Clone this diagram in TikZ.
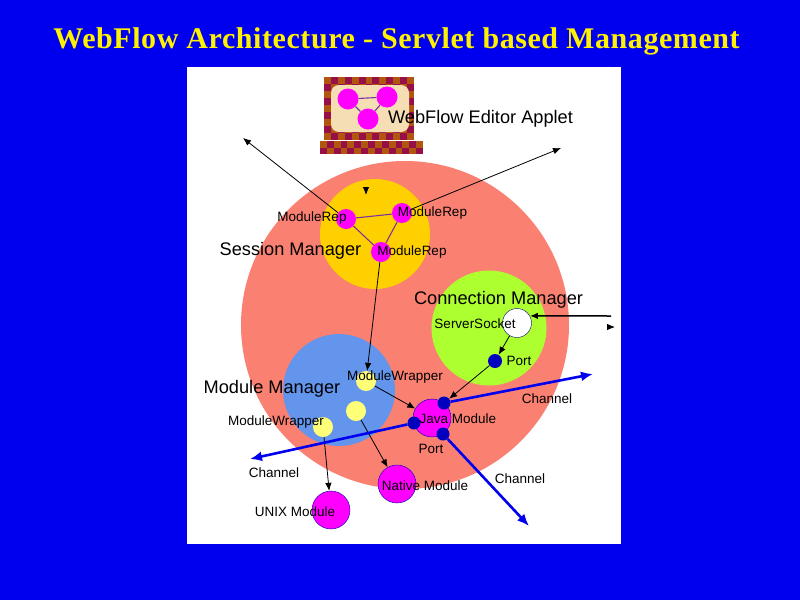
\documentclass[tikz,border=0pt]{standalone}
\usepackage{fontspec}
\setmainfont{Liberation Sans}
\newfontfamily\titlefont[LetterSpace=1.9]{Liberation Serif}
\usetikzlibrary{arrows.meta}
\definecolor{slideblue}{RGB}{0,0,238}
\definecolor{salmonred}{RGB}{250,128,114}
\definecolor{sessiongold}{RGB}{255,208,0}
\definecolor{connectgreen}{RGB}{173,255,47}
\definecolor{moduleblue}{RGB}{100,149,237}
\definecolor{portblue}{RGB}{0,0,190}
\definecolor{paleyellow}{RGB}{255,255,120}
\definecolor{linkpurple}{RGB}{125,50,160}
\definecolor{checkred}{RGB}{150,15,70}
\definecolor{checkbrown}{RGB}{178,85,15}
\definecolor{panelwheat}{RGB}{245,222,179}
\definecolor{modulepink}{RGB}{255,0,255}
\tikzset{line/.style={draw, line width=0.8pt, -{Latex[length=8pt,width=6.5pt]}}}
\tikzset{channel/.style={draw=slideblue, line width=2.6pt, -{Latex[length=12pt,width=10pt]}}}
\tikzset{link/.style={draw=linkpurple, line width=1.1pt}}

\begin{document}
\begin{tikzpicture}[x=1pt, y=-1pt]
\tikzstyle{disc} = [circle, inner sep=0pt, minimum size=#1*2pt]
\tikzstyle{rep} = [disc=10, fill=modulepink]
\tikzstyle{wrapper} = [disc=10, fill=paleyellow]
\tikzstyle{port} = [disc=6.5, fill=portblue]
\tikzstyle{module} = [disc=19, fill=modulepink, draw=blue!70!black]
\tikzstyle{small} = [font=\fontsize{13.5}{14}\selectfont, inner sep=0pt, yshift=-0.5pt]
\tikzstyle{big} = [font=\fontsize{18.2}{19}\selectfont, inner sep=0pt, yshift=-1.5pt]
\useasboundingbox (0,0) rectangle (800,600);
\fill [slideblue] (0,0) rectangle (800,600);
\fill [white] (187,67) rectangle (621,544);

% title
\node [text=yellow, font=\titlefont\bfseries\fontsize{30}{31}\selectfont, inner sep=0pt] (title) at (396.5,41) {WebFlow Architecture - Servlet based Management};

% applet monitor
\fill [checkred] (324,77) rectangle (414,140);
\fill [checkred] (320,141) rectangle (423,154);
\foreach \i in {0,...,12} \foreach \j in {0,...,8} {
  \pgfmathparse{int(mod(\i+\j,2))}
  \ifnum\pgfmathresult=0 \fill [checkbrown] (324+\i*6.92,77+\j*7) rectangle +(6.92,7); \fi
}
\foreach \i in {0,...,14} \foreach \j in {0,1} {
  \pgfmathparse{int(mod(\i+\j,2))}
  \ifnum\pgfmathresult=0 \fill [checkbrown] (320+\i*6.87,141+\j*6.5) rectangle +(6.87,6.5); \fi
}
\fill [panelwheat, rounded corners=8pt] (331,85) rectangle (409,132);
\node [disc=10.5, fill=modulepink] (icon1) at (348,99) {};
\node [disc=10.5, fill=modulepink] (icon2) at (387,97) {};
\node [disc=10.5, fill=modulepink] (icon3) at (368,119) {};
\path [link] (icon1) -- (icon2);
\path [link] (icon1) -- (icon3);
\path [link] (icon2) -- (icon3);

% managers
\node [disc=164, fill=salmonred] (webflow) at (405,325) {};
\node [disc=55, fill=sessiongold] (session) at (375,234) {};
\node [disc=57.5, fill=connectgreen] (connection) at (489,328) {};
\node [disc=56, fill=moduleblue] (manager) at (339,390) {};

\node [rep] (rep_left) at (346,219) {};
\node [rep] (rep_right) at (402,213) {};
\node [rep] (rep_low) at (381,252) {};
\node [wrapper] (wrapper_top) at (366,381) {};
\node [wrapper] (wrapper_mid) at (356,411) {};
\node [wrapper] (wrapper_low) at (323,427) {};
\node [disc=14.5, fill=white, draw=portblue!60!black] (socket) at (517,323) {};
\node [port, disc=7] (port_socket) at (495,361) {};
\node [module] (java) at (432,418) {};
\node [module] (native) at (397,484) {};
\node [module] (unix) at (331,510) {};
\node [port] (port_top) at (444,403) {};
\node [port] (port_left) at (414,423) {};
\node [port] (port_low) at (443,434) {};

\coordinate (out_left) at (243,138);
\coordinate (out_right) at (561,148);
\coordinate (stub_a) at (366,187);
\coordinate (stub_b) at (366,195);
\coordinate (stub_c) at (607,327);
\coordinate (stub_d) at (615,327);
\coordinate (in_socket) at (611,316);
\coordinate (chan_right) at (593,374);
\coordinate (chan_left) at (250,459);
\coordinate (chan_low) at (529,526);

\path [link] (rep_left) -- (rep_right);
\path [link] (rep_left) -- (rep_low);
\path [link] (rep_right) -- (rep_low);
\path [line] (rep_left) -- (out_left);
\path [line] (rep_right) -- (out_right);
\path [line] (rep_low) -- (wrapper_top);
\path [line] (wrapper_top) -- (java);
\path [line] (wrapper_mid) -- (native);
\path [line] (wrapper_low) -- (unix);
\path [line] (socket) -- (port_socket);
\path [line] (port_socket) -- (port_top);
\path [line, line width=1.5pt] (in_socket) -- (socket.29);
\path [line] (stub_a) -- (stub_b);
\path [line] (stub_c) -- (stub_d);
\path [channel] (port_top) -- (chan_right);
\path [channel] (port_left) -- (chan_left);
\path [channel] (port_low) -- (chan_low);

% labels
\node [big] (applet_label) at (480.5,117) {WebFlow Editor Applet};
\node [big] (session_label) at (290.5,249) {Session Manager};
\node [big] (connection_label) at (498.5,298) {Connection Manager};
\node [big] (manager_label) at (272,387) {Module Manager};
\node [small] (rep_left_label) at (312,218) {ModuleRep};
\node [small] (rep_right_label) at (432.5,213) {ModuleRep};
\node [small] (rep_low_label) at (412,252) {ModuleRep};
\node [small] (socket_label) at (475,323) {ServerSocket};
\node [small] (port_socket_label) at (519,360) {Port};
\node [small] (wrapper_top_label) at (395,377) {ModuleWrapper};
\node [small] (wrapper_low_label) at (276,422) {ModuleWrapper};
\node [small] (java_label) at (458,418) {Java Module};
\node [small] (port_low_label) at (431,448) {Port};
\node [small] (chan_right_label) at (547,398) {Channel};
\node [small] (chan_left_label) at (274,472) {Channel};
\node [small] (chan_low_label) at (520,478) {Channel};
\node [small] (native_label) at (425,485) {Native Module};
\node [small] (unix_label) at (295,511) {UNIX Module};
\end{tikzpicture}
\end{document}
